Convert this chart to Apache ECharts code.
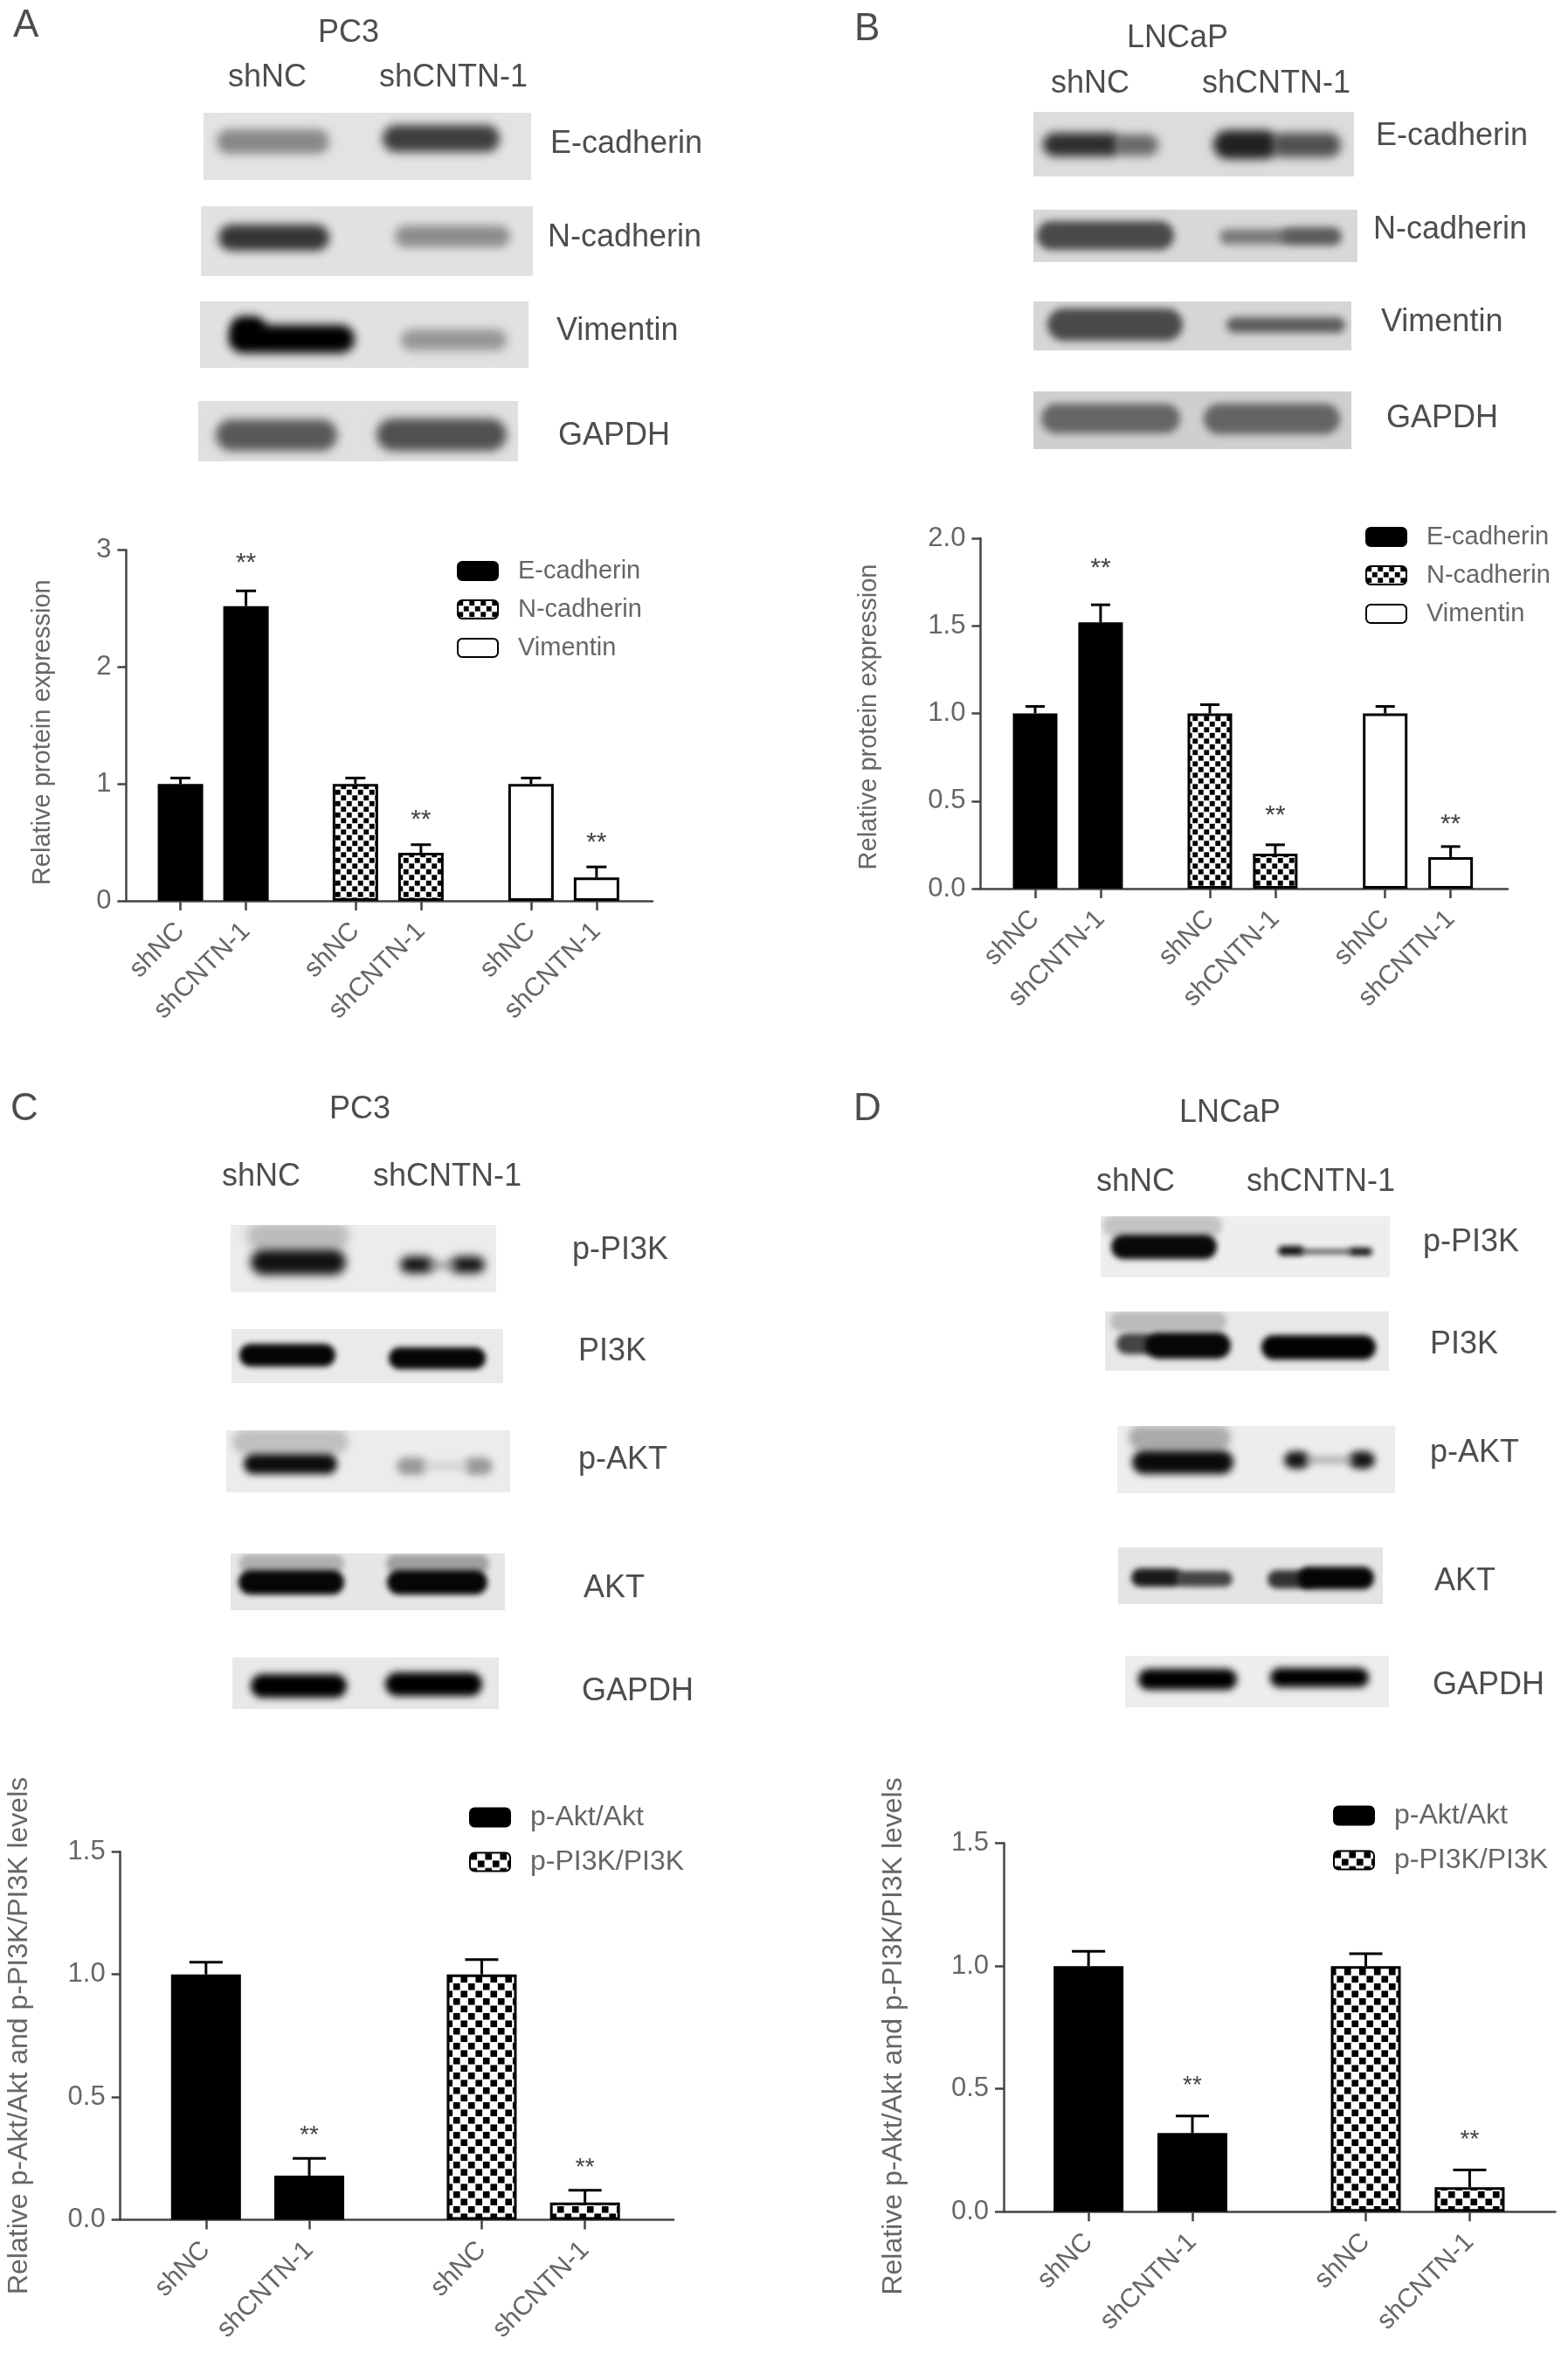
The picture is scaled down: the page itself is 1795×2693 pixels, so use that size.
<!DOCTYPE html>
<html>
<head>
<meta charset="utf-8">
<title>Relative protein expression</title>
<script src="https://cdn.jsdelivr.net/npm/echarts@6/dist/echarts.min.js"></script>
<style>html,body{margin:0;padding:0;background:#fff}#chart{width:1795px;height:2693px}</style>
</head>
<body>
<div id="chart"></div>
<script>
// ---------- values ----------
const labelsThreeGroups = ['shNC','shCNTN-1','shNC','shCNTN-1','shNC','shCNTN-1'];
const labelsTwoGroups = ['shNC','shCNTN-1','shNC','shCNTN-1'];

const aEcad = [1.0, 2.52], aEcadTop = [1.05, 2.65];
const aNcad = [1.0, 0.41], aNcadTop = [1.05, 0.48];
const aVim  = [1.0, 0.20], aVimTop  = [1.05, 0.29];
const aStars = [2.92, 0.73, 0.53];

const bEcad = [1.0, 1.52], bEcadTop = [1.04, 1.62];
const bNcad = [1.0, 0.20], bNcadTop = [1.05, 0.25];
const bVim  = [1.0, 0.18], bVimTop  = [1.04, 0.24];
const bStars = [1.85, 0.44, 0.39];

const cAkt  = [1.0, 0.18], cAktTop  = [1.05, 0.25];
const cPi3k = [1.0, 0.07], cPi3kTop = [1.06, 0.12];
const cStars = [0.36, 0.23];

const dAkt  = [1.0, 0.32], dAktTop  = [1.06, 0.39];
const dPi3k = [1.0, 0.10], dPi3kTop = [1.05, 0.17];
const dStars = [0.53, 0.31];

// ---------- layout ----------
const FONT = '"Liberation Sans", Arial, sans-serif';
const slots3 = [0, 1, 2.67, 3.67, 5.35, 6.35];
const slots2 = [0, 1, 2.67, 3.67];
const GREY = '#666666', AXIS = '#444444', DARK = '#4d4d4d';

function checker(cell) {
  const c = document.createElement('canvas');
  c.width = c.height = Math.round(cell * 2);
  const g = c.getContext('2d');
  const s = c.width / 2;
  g.fillStyle = '#fff'; g.fillRect(0, 0, c.width, c.height);
  g.fillStyle = '#000';
  const m = s * 0.05;
  g.fillRect(m, m, s - 2 * m, s - 2 * m);
  g.fillRect(s + m, s + m, s - 2 * m, s - 2 * m);
  return {image: c, repeat: 'repeat'};
}
const fine = checker(6.5), coarse = checker(8.35);

const panels = [
  {labels: labelsThreeGroups, slots: slots3, left: 144.4, right: 747, top: 629.4, bottom: 1031,
   xMin: -0.829, xMax: 7.205, yMax: 3, yStep: 1, dec: 0, barW: 52, cap: 23, starSize: 30,
   name: 'Relative protein expression', nameGap: 81, namePad: 16, nameSize: 29, legendSize: 29,
   legend: {left: 523, top: 639, gap: 15}, stars: aStars,
   groups: [
     {name: 'E-cadherin', v: aEcad, t: aEcadTop, color: '#000', at: [0, 1]},
     {name: 'N-cadherin', v: aNcad, t: aNcadTop, color: fine, at: [2, 3]},
     {name: 'Vimentin',   v: aVim,  t: aVimTop,  color: '#fff', at: [4, 5]}]},
  {labels: labelsThreeGroups, slots: slots3, left: 1122.4, right: 1726, top: 616, bottom: 1017,
   xMin: -0.836, xMax: 7.223, yMax: 2, yStep: 0.5, dec: 1, barW: 51, cap: 22, starSize: 30,
   name: 'Relative protein expression', nameGap: 113, namePad: 8, nameSize: 29, legendSize: 29,
   legend: {left: 1563, top: 600, gap: 15}, stars: bStars,
   groups: [
     {name: 'E-cadherin', v: bEcad, t: bEcadTop, color: '#000', at: [0, 1]},
     {name: 'N-cadherin', v: bNcad, t: bNcadTop, color: fine, at: [2, 3]},
     {name: 'Vimentin',   v: bVim,  t: bVimTop,  color: '#fff', at: [4, 5]}]},
  {labels: labelsTwoGroups, slots: slots2, left: 137.7, right: 771, top: 2119.3, bottom: 2540.5,
   xMin: -0.83, xMax: 4.527, yMax: 1.5, yStep: 0.5, dec: 1, barW: 80, cap: 38, starSize: 28,
   name: 'Relative p-Akt/Akt and p-PI3K/PI3K levels', nameGap: 100, namePad: 0, nameSize: 32, legendSize: 32,
   legend: {left: 537, top: 2064, gap: 19}, stars: cStars,
   groups: [
     {name: 'p-Akt/Akt',  v: cAkt,  t: cAktTop,  color: '#000', at: [0, 1]},
     {name: 'p-PI3K/PI3K', v: cPi3k, t: cPi3kTop, color: coarse, at: [2, 3]}]},
  {labels: labelsTwoGroups, slots: slots2, left: 1149, right: 1780.5, top: 2109.6, bottom: 2531.3,
   xMin: -0.817, xMax: 4.495, yMax: 1.5, yStep: 0.5, dec: 1, barW: 80, cap: 38, starSize: 28,
   name: 'Relative p-Akt/Akt and p-PI3K/PI3K levels', nameGap: 110, namePad: 20, nameSize: 32, legendSize: 32,
   legend: {left: 1526, top: 2062, gap: 19}, stars: dStars,
   groups: [
     {name: 'p-Akt/Akt',  v: dAkt,  t: dAktTop,  color: '#000', at: [0, 1]},
     {name: 'p-PI3K/PI3K', v: dPi3k, t: dPi3kTop, color: coarse, at: [2, 3]}]}
];

// ---------- western blot strips (picture content, not data marks) ----------
// each: [x0, y0, x1, y1, background, blur, bands]; band: [x0, y0, x1, y1, shade]
const blots = [
  // A
  [233,129,608,206,'#e3e3e3',6,[[252,152,373,172,'#888'],[442,147,568,170,'#3e3e3e']]],
  [230,236,610,316,'#e2e2e2',6,[[254,261,373,283,'#353535'],[456,262,580,279,'#8c8c8c']]],
  [229,345,605,421,'#e1e1e1',6,[[266,376,402,400,'#000'],[268,366,300,385,'#000'],[463,381,576,397,'#969696']]],
  [227,459,593,528,'#e0e0e0',6,[[251,484,382,512,'#585858'],[435,483,576,512,'#505050']]],
  // B
  [1183,128,1550,202,'#dcdcdc',6,[[1198,156,1280,175,'#2e2e2e'],[1280,158,1322,174,'#686868'],[1393,153,1460,178,'#222'],[1460,156,1531,176,'#505050']]],
  [1183,240,1554,300,'#d8d8d8',5,[[1191,257,1340,282,'#4a4a4a'],[1400,266,1470,276,'#7c7c7c'],[1470,264,1532,277,'#5c5c5c']]],
  [1183,345,1547,401,'#d6d6d6',5,[[1203,357,1350,386,'#4a4a4a'],[1408,367,1536,377,'#5e5e5e']]],
  [1183,448,1547,514,'#cfcfcf',5,[[1196,466,1347,492,'#666'],[1382,466,1530,493,'#646464']]],
  // C
  [264,1402,568,1479,'#ececec',6,[[286,1404,396,1425,'#bcbcbc'],[291,1434,392,1455,'#111'],[462,1442,492,1453,'#111'],[520,1442,551,1453,'#111'],[490,1446,522,1450,'#777']]],
  [265,1521,576,1583,'#eaeaea',4,[[278,1542,380,1560,'#050505'],[449,1546,552,1563,'#050505']]],
  [259,1637,584,1708,'#ececec',5,[[270,1640,395,1660,'#c0c0c0'],[283,1668,382,1683,'#0c0c0c'],[458,1672,485,1684,'#999'],[535,1672,560,1684,'#999'],[485,1675,535,1681,'#cfcfcf']]],
  [264,1778,578,1843,'#e6e6e6',4,[[278,1783,390,1797,'#b0b0b0'],[446,1783,556,1797,'#a0a0a0'],[277,1801,390,1821,'#060606'],[447,1801,554,1821,'#060606']]],
  [266,1897,571,1956,'#e8e8e8',5,[[291,1920,393,1939,'#000'],[445,1918,548,1937,'#000']]],
  // D
  [1260,1392,1591,1462,'#eeeeee',4,[[1266,1394,1395,1412,'#c4c4c4'],[1276,1417,1389,1437,'#080808'],[1464,1427,1492,1436,'#111'],[1545,1429,1570,1436,'#111'],[1490,1431,1546,1434,'#444']]],
  [1265,1501,1590,1569,'#e8e8e8',4,[[1275,1505,1400,1520,'#bbb'],[1282,1530,1320,1546,'#444'],[1315,1529,1405,1551,'#070707'],[1448,1532,1571,1552,'#030303']]],
  [1279,1632,1597,1709,'#ededed',5,[[1296,1636,1405,1655,'#aaa'],[1300,1664,1408,1683,'#0a0a0a'],[1474,1665,1495,1677,'#161616'],[1548,1665,1570,1677,'#161616'],[1495,1669,1548,1673,'#999']]],
  [1280,1771,1583,1836,'#e4e4e4',4,[[1299,1799,1350,1812,'#1a1a1a'],[1350,1802,1407,1812,'#444'],[1455,1801,1500,1814,'#333'],[1490,1797,1569,1815,'#050505']]],
  [1288,1895,1590,1954,'#ededed',5,[[1307,1914,1412,1930,'#000'],[1458,1913,1563,1927,'#000']]]
];

function blotImage(b) {
  const [x0, y0, x1, y1, bg, blur, bands] = b;
  const c = document.createElement('canvas');
  c.width = x1 - x0; c.height = y1 - y0;
  const g = c.getContext('2d');
  g.fillStyle = bg; g.fillRect(0, 0, c.width, c.height);
  g.filter = 'blur(' + (blur * 0.85) + 'px)';
  for (const [a, t, e, u, shade] of bands) {
    const grow = (u - t) > 9 ? 4 : 1;
    g.fillStyle = shade;
    g.beginPath();
    g.roundRect(a - x0 - grow, t - y0 - grow, e - a + 2 * grow, u - t + 2 * grow, Math.min(e - a, u - t + 2 * grow) / 2);
    g.fill();
  }
  return c;
}

// ---------- free text: [text, x, y, size, align] ----------
const texts = [
  ['A',15,30,44,'left'], ['PC3',399,38,36,'center'], ['shNC',306,89,36,'center'], ['shCNTN-1',519,89,36,'center'],
  ['E-cadherin',630,165,36,'left'], ['N-cadherin',627,272,36,'left'], ['Vimentin',637,379,36,'left'], ['GAPDH',639,499,36,'left'],
  ['B',978,34,44,'left'], ['LNCaP',1348,44,36,'center'], ['shNC',1248,96,36,'center'], ['shCNTN-1',1461,96,36,'center'],
  ['E-cadherin',1575,156,36,'left'], ['N-cadherin',1572,263,36,'left'], ['Vimentin',1581,369,36,'left'], ['GAPDH',1587,479,36,'left'],
  ['C',12,1270,44,'left'], ['PC3',412,1270,36,'center'], ['shNC',299,1347,36,'center'], ['shCNTN-1',512,1347,36,'center'],
  ['p-PI3K',655,1431,36,'left'], ['PI3K',662,1547,36,'left'], ['p-AKT',662,1671,36,'left'], ['AKT',668,1818,36,'left'], ['GAPDH',666,1936,36,'left'],
  ['D',977,1270,44,'left'], ['LNCaP',1408,1274,36,'center'], ['shNC',1300,1353,36,'center'], ['shCNTN-1',1512,1353,36,'center'],
  ['p-PI3K',1629,1422,36,'left'], ['PI3K',1637,1539,36,'left'], ['p-AKT',1637,1663,36,'left'], ['AKT',1642,1810,36,'left'], ['GAPDH',1640,1929,36,'left']
];

// ---------- option ----------
const W = 1795, H = 2693;
const option = {
  animation: false,
  backgroundColor: '#fff',
  textStyle: {fontFamily: FONT},
  grid: [], xAxis: [], yAxis: [], legend: [], series: [],
  graphic: {elements: [
    ...blots.map(b => ({type: 'image', silent: true, x: b[0], y: b[1], style: {image: blotImage(b), x: 0, y: 0, width: b[2] - b[0], height: b[3] - b[1]}})),
    ...texts.map(t => ({type: 'text', silent: true, x: t[1], y: t[2], style: {text: t[0], fill: DARK, font: t[3] + 'px ' + FONT, textAlign: t[4], textVerticalAlign: 'middle'}}))
  ]}
};

panels.forEach((p, i) => {
  option.grid.push({left: p.left, top: p.top, width: p.right - p.left, height: p.bottom - p.top, containLabel: false});
  const axisLine = {onZero: false, lineStyle: {color: AXIS, width: 2.5}};
  const tickStyle = {color: AXIS, width: 2.5};
  option.xAxis.push({
    type: 'value', gridIndex: i, min: p.xMin, max: p.xMax, splitLine: {show: false},
    axisLine,
    axisTick: {length: 11, lineStyle: tickStyle, customValues: p.slots},
    axisLabel: {customValues: p.slots, rotate: 45, margin: 30, color: GREY, fontSize: 30, fontFamily: FONT,
                formatter: (v) => p.labels[p.slots.indexOf(v)]}
  });
  option.yAxis.push({
    type: 'value', gridIndex: i, min: 0, max: p.yMax, interval: p.yStep, splitLine: {show: false},
    axisLine: {show: true, onZero: false, lineStyle: {color: AXIS, width: 2.5}},
    axisTick: {show: true, length: 10, lineStyle: tickStyle},
    axisLabel: {margin: 17, color: GREY, fontSize: 31, fontFamily: FONT, formatter: v => v.toFixed(p.dec)},
    name: p.name, nameLocation: 'middle', nameGap: p.nameGap, nameRotate: 90,
    nameTextStyle: {color: GREY, fontSize: p.nameSize, fontFamily: FONT, padding: [0, p.namePad, 0, 0]}
  });
  option.legend.push({
    show: true, orient: 'vertical', left: p.legend.left, top: p.legend.top, padding: 0,
    itemWidth: 46, itemHeight: 21, itemGap: p.legend.gap, icon: 'roundRect',
    selectedMode: false, data: p.groups.map(g => g.name),
    textStyle: {color: GREY, fontSize: p.legendSize, fontFamily: FONT, lineHeight: 21, padding: [0, 0, 0, 18]}
  });
  p.groups.forEach(g => {
    option.series.push({
      type: 'bar', name: g.name, xAxisIndex: i, yAxisIndex: i, barWidth: p.barW, barGap: '-100%', silent: true,
      itemStyle: {color: g.color, borderColor: '#000', borderWidth: 3},
      data: g.v.map((v, k) => [p.slots[g.at[k]], v])
    });
    option.series.push({
      type: 'custom', xAxisIndex: i, yAxisIndex: i, silent: true, z: 3, encode: {x: 0, y: [1, 2]},
      renderItem: (params, api) => {
        const x = api.value(0);
        const a = api.coord([x, api.value(1)]), b = api.coord([x, api.value(2)]);
        const st = {stroke: '#000', lineWidth: 3};
        return {type: 'group', children: [
          {type: 'line', shape: {x1: a[0], y1: a[1], x2: b[0], y2: b[1]}, style: st},
          {type: 'line', shape: {x1: b[0] - p.cap / 2, y1: b[1], x2: b[0] + p.cap / 2, y2: b[1]}, style: st}
        ]};
      },
      data: g.v.map((v, k) => [p.slots[g.at[k]], v, g.t[k]])
    });
  });
  option.series.push({
    type: 'scatter', xAxisIndex: i, yAxisIndex: i, silent: true, symbolSize: 1, itemStyle: {opacity: 0},
    label: {show: true, position: 'inside', formatter: '**', color: '#444', fontSize: p.starSize, fontFamily: FONT, offset: [0, 5], opacity: 1},
    data: p.stars.map((s, k) => [p.slots[k * 2 + 1], s])
  });
});

const chart = echarts.init(document.getElementById('chart'), null, {width: W, height: H, renderer: 'canvas'});
chart.setOption(option);
</script>
</body>
</html>
